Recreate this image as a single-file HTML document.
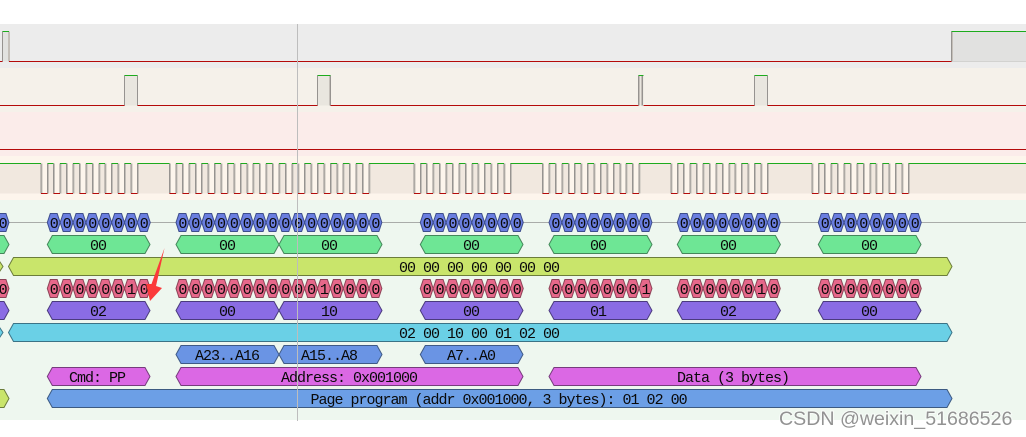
<!DOCTYPE html>
<html><head><meta charset="utf-8"><style>
html,body{margin:0;padding:0;background:#fff;width:1026px;height:437px;overflow:hidden}
svg{display:block}
text{font-family:"Liberation Mono",monospace;font-size:15px;letter-spacing:-1px;fill:#0a0a0a;text-anchor:middle}
.s{text-anchor:start}
.w{fill:none;shape-rendering:crispEdges}
.hi{stroke:#1dab1d}.lo{stroke:#b40a0a}.ed{stroke:#969390}.ed2{stroke:#c4bfb9}
.hx{stroke-width:1}
.b{fill:#6a7ee0;stroke:#3d4d8c}.g{fill:#6ee695;stroke:#44875a}.y{fill:#c9e56b;stroke:#6b7d3a}
.r{fill:#e6688a;stroke:#8c4256}.p{fill:#8a6ce4;stroke:#4b3b7e}.c{fill:#6ad0e6;stroke:#3b7386}
.a{fill:#6a94e4;stroke:#3f5a86}.m{fill:#db68e4;stroke:#763c7c}.t{fill:#6c9fe6;stroke:#3c5a82}
text.wm{font-family:"Liberation Sans",sans-serif;font-size:19.6px;letter-spacing:0;fill:#929292;text-anchor:start;stroke:#fff;stroke-opacity:.6;stroke-width:2px;paint-order:stroke}
</style></head><body>
<svg width="1026" height="437" viewBox="0 0 1026 437" xmlns="http://www.w3.org/2000/svg">
<defs>
<polygon id="h" points="0,0 3,-9 9.87,-9 12.87,0 9.87,9 3,9"/>
<g id="bits">
<use href="#h" x="0"/><use href="#h" x="12.87"/><use href="#h" x="25.74"/><use href="#h" x="38.61"/><use href="#h" x="51.48"/><use href="#h" x="64.35"/><use href="#h" x="77.22"/><use href="#h" x="90.09"/>
</g>
<g id="clk">
<path fill="#f1e8df" d="M0 163.5h6.44v30h-6.44zM12.87 163.5h6.44v30h-6.44zM25.74 163.5h6.44v30h-6.44zM38.61 163.5h6.44v30h-6.44zM51.48 163.5h6.44v30h-6.44zM64.35 163.5h6.44v30h-6.44zM77.22 163.5h6.44v30h-6.44z"/>
<path class="w ed2" d="M-5.43 163.5V193.5M7.44 163.5V193.5M20.31 163.5V193.5M33.18 163.5V193.5M46.05 163.5V193.5M58.92 163.5V193.5M71.79 163.5V193.5M84.66 163.5V193.5M91.09 163.5V193.5M1 163.5V193.5M13.87 163.5V193.5M26.74 163.5V193.5M39.61 163.5V193.5M52.48 163.5V193.5M65.35 163.5V193.5M78.22 163.5V193.5"/>
<path class="w ed" d="M-6.43 163.5V193.5M6.44 163.5V193.5M19.31 163.5V193.5M32.18 163.5V193.5M45.05 163.5V193.5M57.92 163.5V193.5M70.79 163.5V193.5M83.66 163.5V193.5M0 163.5V193.5M12.87 163.5V193.5M25.74 163.5V193.5M38.61 163.5V193.5M51.48 163.5V193.5M64.35 163.5V193.5M77.22 163.5V193.5M90.09 163.5V193.5"/>
<path class="w hi" d="M0 163.5H6.44M12.87 163.5H19.31M25.74 163.5H32.18M38.61 163.5H45.05M51.48 163.5H57.92M64.35 163.5H70.79M77.22 163.5H83.66"/>
<path class="w lo" d="M-6.43 193.5H0M6.44 193.5H12.87M19.31 193.5H25.74M32.18 193.5H38.61M45.05 193.5H51.48M57.92 193.5H64.35M70.79 193.5H77.22M83.66 193.5H90.09"/>
</g>
</defs>

<rect width="1026" height="437" fill="#fff"/>
<rect y="24" width="1026" height="44" fill="#ececec"/>
<rect y="68" width="1026" height="44" fill="#f5f1ea"/>
<rect y="112" width="1026" height="44" fill="#fbecea"/>
<rect y="156" width="1026" height="44" fill="#fdf5ec"/>
<rect y="200" width="1026" height="220" fill="#eef7ef"/>

<!-- signal 1 -->
<rect x="2.5" y="31.5" width="6.5" height="30" fill="#e2e2e0"/>
<rect x="952" y="31.5" width="74" height="30" fill="#e1e1e0"/>
<path class="w ed" d="M2.5 31.5V61.5M951.5 31.5V61.5"/>
<path class="w ed2" d="M8.5 31.5V61.5M9.5 31.5V61.5M952.5 31.5V61.5"/>
<path class="w hi" d="M2.5 31.5H9M951.5 31.5H1026"/>
<path class="w lo" d="M0 61.5H2.5M9 61.5H951.5"/>
<path class="w" stroke="#d2d2d0" d="M952 61.5H1026"/>

<!-- signal 2 -->
<path fill="#e9e6df" d="M124.5 75.5h13v30h-13zM317.5 75.5h13v30h-13zM638.5 75.5h5v30h-5zM754.5 75.5h13v30h-13z"/>
<path class="w ed" d="M124.5 75.5V105.5M137.5 75.5V105.5M317.5 75.5V105.5M330.5 75.5V105.5M638.5 75.5V105.5M642.5 75.5V105.5M754.5 75.5V105.5M767.5 75.5V105.5"/>
<path class="w ed2" d="M639.5 75.5V105.5M641.5 75.5V105.5M329.5 75.5V105.5"/>
<path class="w hi" d="M124.5 75.5H137.5M317.5 75.5H330.5M638.5 75.5H643.5M754.5 75.5H767.5"/>
<path class="w lo" d="M0 105.5H124.5M137.5 105.5H317.5M330.5 105.5H638.5M643.5 105.5H754.5M767.5 105.5H1026"/>

<!-- signal 3 -->
<path class="w lo" d="M0 149.5H1026"/>

<!-- signal 4 clock -->
<path fill="#f1e8df" d="M0 163.5H40.9V193.5H0zM137.4 163.5H169.6V193.5H137.4zM266.1 163.5H272.5V193.5H266.1zM369 163.5H413.9V193.5H369zM510.4 163.5H542.6V193.5H510.4zM639.1 163.5H670.9V193.5H639.1zM767.4 163.5H811.9V193.5H767.4zM908.4 163.5H1026V193.5H908.4z"/>
<use href="#clk" x="47.3"/><use href="#clk" x="176"/><use href="#clk" x="278.9"/><use href="#clk" x="420.3"/><use href="#clk" x="549"/><use href="#clk" x="677.3"/><use href="#clk" x="818.3"/>
<path class="w hi" d="M0 163.5H40.9M137.4 163.5H169.6M266.1 163.5H272.5M369 163.5H413.9M510.4 163.5H542.6M639.1 163.5H670.9M767.4 163.5H811.9M908.4 163.5H1026"/>

<!-- row 1 -->
<path d="M0 222.5H1026" stroke="#a9aca9" stroke-width="1" shape-rendering="crispEdges"/>
<g class="b hx">
<use href="#bits" transform="translate(-94 222.5)"/><use href="#bits" transform="translate(47.3 222.5)"/><use href="#bits" transform="translate(176 222.5)"/><use href="#bits" transform="translate(278.9 222.5)"/><use href="#bits" transform="translate(420.3 222.5)"/><use href="#bits" transform="translate(549 222.5)"/><use href="#bits" transform="translate(677.3 222.5)"/><use href="#bits" transform="translate(818.3 222.5)"/>
</g>
<text x="2.6" y="228">0</text>
<text transform="translate(47.3 228)" x="6.4 19.3 32.2 45 57.9 70.8 83.6 96.5">00000000</text>
<text transform="translate(176 228)" x="6.4 19.3 32.2 45 57.9 70.8 83.6 96.5">00000000</text>
<text transform="translate(278.9 228)" x="6.4 19.3 32.2 45 57.9 70.8 83.6 96.5">00000000</text>
<text transform="translate(420.3 228)" x="6.4 19.3 32.2 45 57.9 70.8 83.6 96.5">00000000</text>
<text transform="translate(549 228)" x="6.4 19.3 32.2 45 57.9 70.8 83.6 96.5">00000000</text>
<text transform="translate(677.3 228)" x="6.4 19.3 32.2 45 57.9 70.8 83.6 96.5">00000000</text>
<text transform="translate(818.3 228)" x="6.4 19.3 32.2 45 57.9 70.8 83.6 96.5">00000000</text>

<!-- row 2 -->
<g class="g">
<polygon points="-10,244.5 -5,235.5 4,235.5 9,244.5 4,253.5 -5,253.5"/>
<polygon points="47.3,244.5 52.3,235.5 145,235.5 150,244.5 145,253.5 52.3,253.5"/>
<polygon points="176,244.5 181,235.5 274,235.5 279,244.5 274,253.5 181,253.5"/>
<polygon points="279,244.5 284,235.5 377,235.5 382,244.5 377,253.5 284,253.5"/>
<polygon points="420.3,244.5 425.3,235.5 518,235.5 523,244.5 518,253.5 425.3,253.5"/>
<polygon points="549,244.5 554,235.5 647,235.5 652,244.5 647,253.5 554,253.5"/>
<polygon points="677.3,244.5 682.3,235.5 775.4,235.5 780.4,244.5 775.4,253.5 682.3,253.5"/>
<polygon points="818.3,244.5 823.3,235.5 916,235.5 921,244.5 916,253.5 823.3,253.5"/>
</g>
<text x="98" y="250">00</text><text x="227" y="250">00</text><text x="329" y="250">00</text><text x="471" y="250">00</text><text x="598" y="250">00</text><text x="728" y="250">00</text><text x="869" y="250">00</text>

<!-- row 3 -->
<g class="y">
<polygon points="-3,266.5 0,262 3,266.5 0,271"/>
<polygon points="8.5,266.5 13.5,257.5 947,257.5 952,266.5 947,275.5 13.5,275.5"/>
</g>
<text class="s" x="399" y="272">00 00 00 00 00 00 00</text>

<!-- row 4 -->
<g class="r hx">
<use href="#bits" transform="translate(-94 288.5)"/><use href="#bits" transform="translate(47.3 288.5)"/><use href="#bits" transform="translate(176 288.5)"/><use href="#bits" transform="translate(278.9 288.5)"/><use href="#bits" transform="translate(420.3 288.5)"/><use href="#bits" transform="translate(549 288.5)"/><use href="#bits" transform="translate(677.3 288.5)"/><use href="#bits" transform="translate(818.3 288.5)"/>
</g>
<text x="2.6" y="294">0</text>
<text transform="translate(47.3 294)" x="6.4 19.3 32.2 45 57.9 70.8 83.6 96.5">00000010</text>
<text transform="translate(176 294)" x="6.4 19.3 32.2 45 57.9 70.8 83.6 96.5">00000000</text>
<text transform="translate(278.9 294)" x="6.4 19.3 32.2 45 57.9 70.8 83.6 96.5">00010000</text>
<text transform="translate(420.3 294)" x="6.4 19.3 32.2 45 57.9 70.8 83.6 96.5">00000000</text>
<text transform="translate(549 294)" x="6.4 19.3 32.2 45 57.9 70.8 83.6 96.5">00000001</text>
<text transform="translate(677.3 294)" x="6.4 19.3 32.2 45 57.9 70.8 83.6 96.5">00000010</text>
<text transform="translate(818.3 294)" x="6.4 19.3 32.2 45 57.9 70.8 83.6 96.5">00000000</text>

<!-- row 5 -->
<g class="p">
<polygon points="-10,310.5 -5,301.5 4,301.5 9,310.5 4,319.5 -5,319.5"/>
<polygon points="47.3,310.5 52.3,301.5 145,301.5 150,310.5 145,319.5 52.3,319.5"/>
<polygon points="176,310.5 181,301.5 274,301.5 279,310.5 274,319.5 181,319.5"/>
<polygon points="279,310.5 284,301.5 377,301.5 382,310.5 377,319.5 284,319.5"/>
<polygon points="420.3,310.5 425.3,301.5 518,301.5 523,310.5 518,319.5 425.3,319.5"/>
<polygon points="549,310.5 554,301.5 647,301.5 652,310.5 647,319.5 554,319.5"/>
<polygon points="677.3,310.5 682.3,301.5 775.4,301.5 780.4,310.5 775.4,319.5 682.3,319.5"/>
<polygon points="818.3,310.5 823.3,301.5 916,301.5 921,310.5 916,319.5 823.3,319.5"/>
</g>
<text x="98" y="316">02</text><text x="227" y="316">00</text><text x="329" y="316">10</text><text x="471" y="316">00</text><text x="598" y="316">01</text><text x="728" y="316">02</text><text x="869" y="316">00</text>

<!-- row 6 -->
<g class="c">
<polygon points="-3,332.5 0,328 3,332.5 0,337"/>
<polygon points="8.5,332.5 13.5,323.5 947,323.5 952,332.5 947,341.5 13.5,341.5"/>
</g>
<text class="s" x="399" y="338">02 00 10 00 01 02 00</text>

<!-- row 7 -->
<g class="a">
<polygon points="176,354.5 181,345.5 274,345.5 279,354.5 274,363.5 181,363.5"/>
<polygon points="279,354.5 284,345.5 377,345.5 382,354.5 377,363.5 284,363.5"/>
<polygon points="420.3,354.5 425.3,345.5 518,345.5 523,354.5 518,363.5 425.3,363.5"/>
</g>
<text x="227" y="360">A23..A16</text><text x="329" y="360">A15..A8</text><text x="471" y="360">A7..A0</text>

<!-- row 8 -->
<g class="m">
<polygon points="47.3,376.5 52.3,367.5 145,367.5 150,376.5 145,385.5 52.3,385.5"/>
<polygon points="176,376.5 181,367.5 518,367.5 523,376.5 518,385.5 181,385.5"/>
<polygon points="549,376.5 554,367.5 916,367.5 921,376.5 916,385.5 554,385.5"/>
</g>
<text x="97" y="382">Cmd: PP</text><text x="349" y="382">Address: 0x001000</text><text x="733" y="382">Data (3 bytes)</text>

<!-- row 9 -->
<polygon class="y" points="-10,398.5 -5,389.5 4,389.5 9,398.5 4,407.5 -5,407.5"/>
<polygon class="t" points="47.3,398.5 52.3,389.5 947,389.5 952,398.5 947,407.5 52.3,407.5"/>
<text class="s" x="310.5" y="404">Page program (addr 0x001000, 3 bytes): 01 02 00</text>

<!-- cursor -->
<path d="M297.5 24V421" stroke="#bdbdbd" stroke-width="1" shape-rendering="crispEdges"/>

<!-- red arrow -->
<polygon points="164.5,248 156,286 162,288 150,301 146,284 151.5,284" fill="#fb3a3a"/>

<!-- watermark -->
<text class="wm" x="779" y="425">CSDN @weixin_51686526</text>
</svg>
</body></html>
